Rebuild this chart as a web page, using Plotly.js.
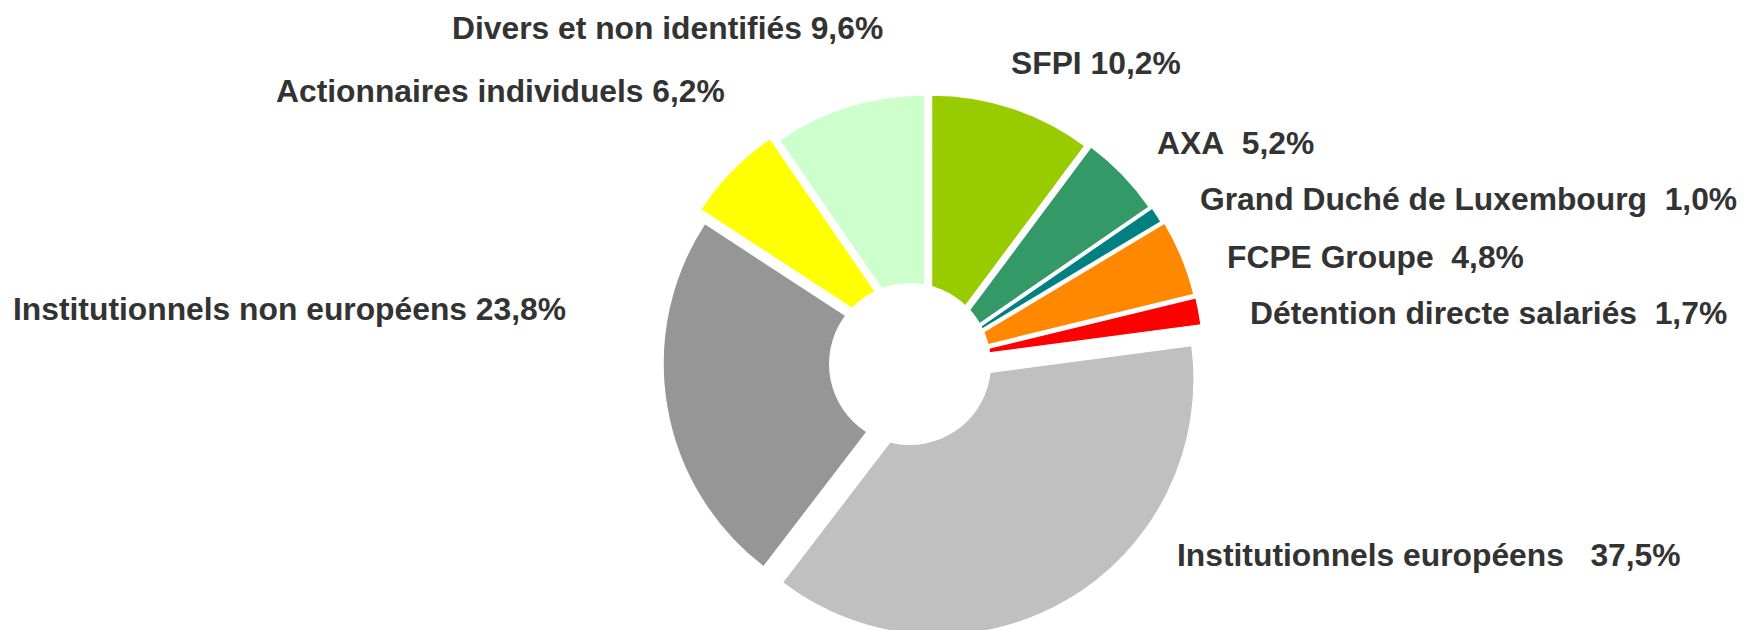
<!DOCTYPE html>
<html>
<head>
<meta charset="utf-8">
<script src="https://cdn.plot.ly/plotly-3.0.1.min.js"></script>
<style>
  html, body { margin: 0; padding: 0; width: 1745px; height: 630px; overflow: hidden; background: #ffffff; }
  #chart { width: 1745px; height: 640px; }
</style>
</head>
<body>
<div id="chart"></div>
<script>
// ---- Data (clockwise from 12 o'clock) ----
const categories = [
  "SFPI",
  "AXA",
  "Grand Duché de Luxembourg",
  "FCPE Groupe",
  "Détention directe salariés",
  "Institutionnels européens",
  "Institutionnels non européens",
  "Actionnaires individuels",
  "Divers et non identifiés"
];
const shares = [10.2, 5.2, 1.0, 4.8, 1.7, 37.5, 23.8, 6.2, 9.6];
// spaces between name and value, as printed
const labelGaps = [1, 2, 2, 2, 2, 3, 1, 1, 1];

// ---- Styles ----
const sliceColors = ["#99CC00", "#339966", "#008080", "#FF8800", "#FF0000",
                     "#C0C0C0", "#969696", "#FFFF00", "#CCFFCC"];
const slicePull = [0.045, 0.055, 0.062, 0.072, 0.076, 0.078, 0.035, 0.07, 0.045];

// label anchor (left edge px, vertical centre px) in a 1745 x 640 canvas
const W = 1745, H = 640;
const labelPos = [
  [1009, 63], [1155, 143], [1198, 199], [1225, 257], [1248, 313],
  [1175, 555], [11, 309], [274, 91], [450, 28]
];

function fmt(v) { return v.toFixed(1).replace(".", ","); }

const annotations = categories.map((c, i) => ({
  xref: "paper", yref: "paper",
  x: labelPos[i][0] / W, y: 1 - labelPos[i][1] / H,
  xanchor: "left", yanchor: "middle",
  showarrow: false,
  text: "<b>" + c + "\u00A0".repeat(labelGaps[i] - 1) + " " + fmt(shares[i]) + "%</b>",
  font: { family: "Liberation Sans, Arial, sans-serif", size: 31.8, color: "#333333" }
}));

const pieTrace = {
  type: "pie",
  values: shares,
  labels: categories,
  sort: false,
  direction: "clockwise",
  rotation: 0,
  pull: slicePull,
  textinfo: "none",
  hoverinfo: "label+value",
  marker: { colors: sliceColors, line: { color: "#ffffff", width: 1.2 } },
  domain: { x: [652 / W, 1204 / W], y: [1 - 638 / H, 1 - 86 / H] },
  showlegend: false
};

// white centre disc (the donut hole)
const holeTrace = {
  type: "pie",
  values: [1],
  labels: [" "],
  sort: false,
  textinfo: "none",
  hoverinfo: "skip",
  marker: { colors: ["#ffffff"], line: { width: 0 } },
  domain: { x: [829 / W, 991 / W], y: [1 - 445 / H, 1 - 283 / H] },
  showlegend: false
};

const layout = {
  width: W, height: H,
  margin: { l: 0, r: 0, t: 0, b: 0, pad: 0 },
  paper_bgcolor: "#ffffff",
  plot_bgcolor: "#ffffff",
  showlegend: false,
  annotations: annotations
};

Plotly.newPlot("chart", [pieTrace, holeTrace], layout, { displayModeBar: false, staticPlot: true });
</script>
</body>
</html>
